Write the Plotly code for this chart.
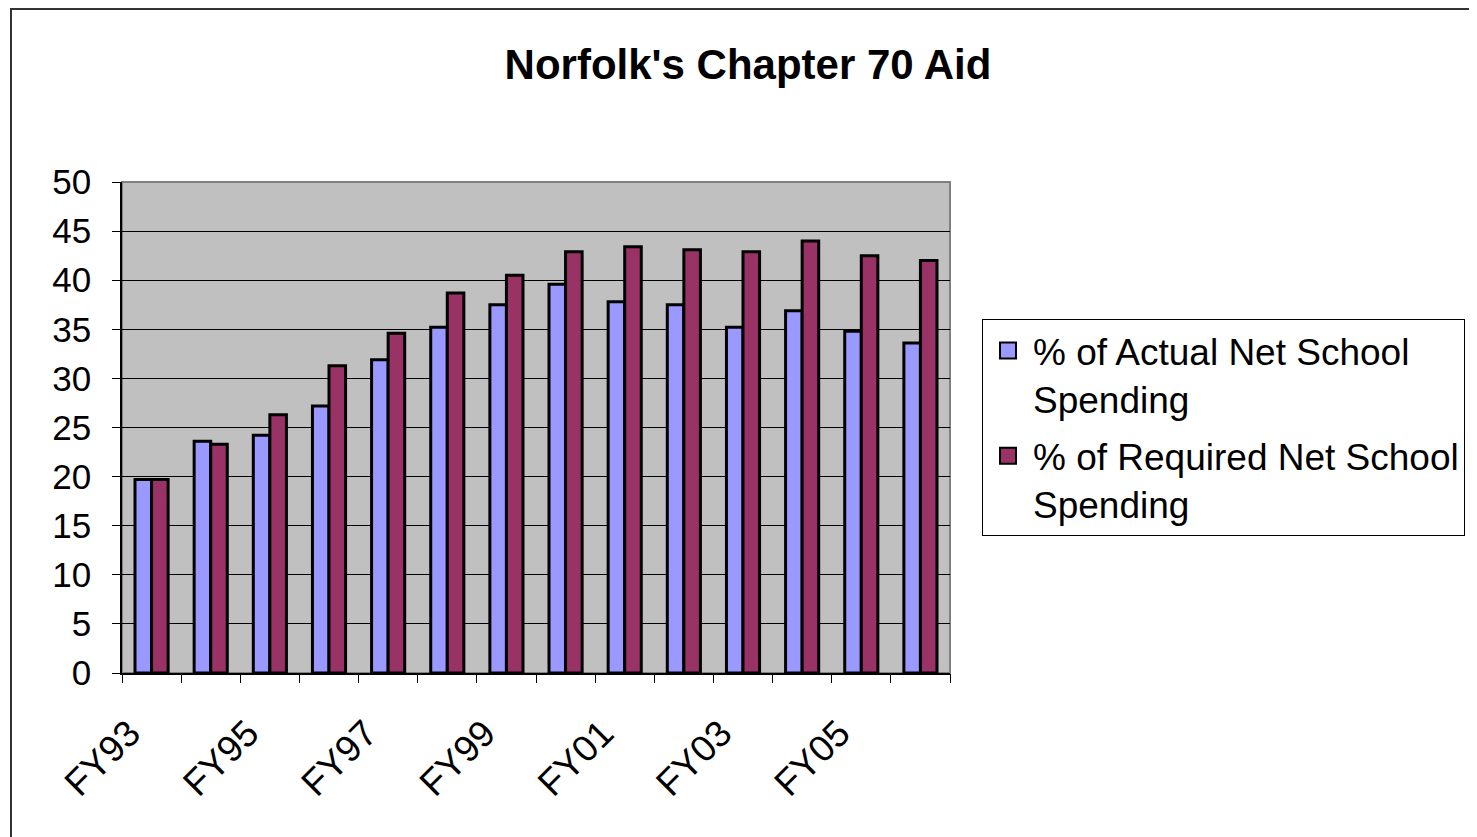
import plotly.graph_objects as go

categories = ["FY93", "FY94", "FY95", "FY96", "FY97", "FY98", "FY99",
              "FY00", "FY01", "FY02", "FY03", "FY04", "FY05", "FY06"]
actual_pct = [19.7, 23.6, 24.2, 27.2, 31.9, 35.2, 37.5,
              39.6, 37.8, 37.5, 35.2, 36.9, 34.8, 33.6]
required_pct = [19.7, 23.3, 26.3, 31.3, 34.6, 38.7, 40.5,
                42.9, 43.4, 43.1, 42.9, 44.0, 42.5, 42.0]
series_names = ["% of Actual Net School<br>Spending",
                "% of Required Net School<br>Spending"]
series_colors = ["#9999FF", "#993366"]
tick_labels = categories[::2]

OFF = 8  # page body margin
W, H = 1477 - OFF, 837 - OFF
L, R, T, B = 122 - OFF, 950 - OFF, 182 - OFF, 673 - OFF
pw, ph = R - L, B - T

FONT = "Liberation Sans, Arial, sans-serif"

fig = go.Figure()
for vals, name, col in zip([actual_pct, required_pct], series_names, series_colors):
    fig.add_trace(go.Bar(x=categories, y=vals, name=name, showlegend=False,
                         marker=dict(color=col, line=dict(color="black", width=3))))
# legend swatches
for name, col in zip(series_names, series_colors):
    fig.add_trace(go.Scatter(x=[None], y=[None], mode="markers", name=name,
                             legendgroup=name,
                             marker=dict(symbol="square", size=17, color=col,
                                         line=dict(color="black", width=2))))

fig.update_layout(
    width=W, height=H,
    margin=dict(l=L, r=W - R, t=T, b=H - B, pad=0),
    paper_bgcolor="white",
    plot_bgcolor="#C0C0C0",
    font=dict(family=FONT, color="black"),
    title=dict(text="<b>Norfolk's Chapter 70 Aid</b>", font=dict(size=42, family=FONT),
               x=(748 - OFF - L) / pw, xref="paper", xanchor="center",
               y=1 - (64 - OFF) / H, yref="container", yanchor="middle"),
    barmode="group",
    bargap=0.44,
    bargroupgap=0,
    showlegend=True,
    legend=dict(x=(982 - OFF - L) / pw, xanchor="left", y=(B - (319 - OFF)) / ph,
                yanchor="top", traceorder="grouped", valign="top",
                bordercolor="black", borderwidth=1, bgcolor="white",
                font=dict(size=37, family=FONT), tracegroupgap=6,
                itemsizing="trace", itemwidth=40),
    xaxis=dict(type="category", categoryorder="array", categoryarray=categories,
               range=[-0.5, 13.5],
               tickmode="array", tickvals=tick_labels, ticktext=tick_labels,
               tickangle=-45, ticks="", ticklabelstandoff=22, ticklabelshift=-22,
               tickfont=dict(size=37, family=FONT),
               showline=True, linecolor="black", linewidth=1.5,
               showgrid=False, zeroline=False),
    xaxis2=dict(overlaying="x", anchor="y", side="bottom", range=[-0.5, 13.5],
                tick0=-0.5, dtick=1, ticks="outside", ticklen=9, tickcolor="black",
                tickwidth=1, showticklabels=False, showgrid=False, zeroline=False,
                showline=False),
    yaxis=dict(range=[0, 50], dtick=5, ticks="outside", ticklen=8, tickcolor="black",
               tickfont=dict(size=35, family=FONT), ticklabelstandoff=14,
               showline=True, linecolor="black", linewidth=1.5,
               showgrid=True, gridcolor="black", gridwidth=1,
               zeroline=False),
)

fig.add_trace(go.Scatter(x=[0, 1], y=[0, 0], xaxis="x2", yaxis="y", mode="lines",
                         line=dict(width=0), hoverinfo="skip", showlegend=False,
                         opacity=0))

# plot area border (top/right gray)
fig.add_shape(type="rect", xref="paper", yref="paper", x0=0, y0=0, x1=1, y1=1,
              line=dict(color="#808080", width=2), layer="below")
# outer chart border
fig.add_shape(type="rect", xref="paper", yref="paper",
              x0=(11 - OFF - L) / pw, y0=(B - 860) / ph,
              x1=(1500 - L) / pw, y1=(B - 1) / ph,
              line=dict(color="#333333", width=2))

fig.write_html("out.html")
